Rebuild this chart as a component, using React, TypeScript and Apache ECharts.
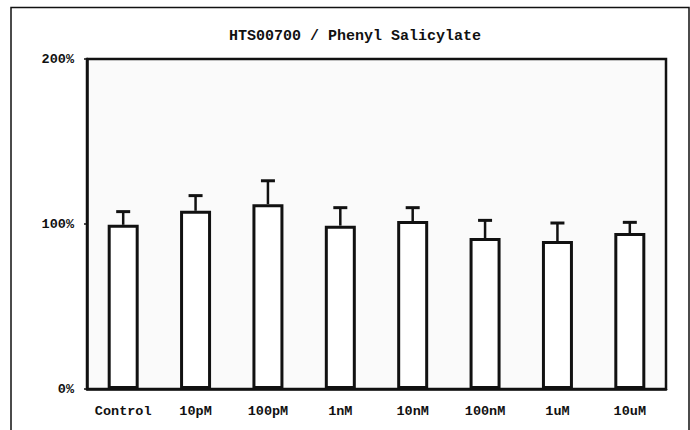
import React, { useEffect, useRef } from "react";
import * as echarts from "echarts";

const titleText = "HTS00700 / Phenyl Salicylate";
const categories = ["Control", "10pM", "100pM", "1nM", "10nM", "100nM", "1uM", "10uM"];
const means = [99.5, 108, 112, 99, 101.8, 91.5, 89.7, 94.5];
const upperErrors = [107.5, 117.2, 126.2, 109.9, 109.9, 102.2, 100.6, 101];
const yTicks = [0, 100, 200];

export default function App() {
  const ref = useRef<HTMLDivElement>(null);
  useEffect(() => {
    if (!ref.current) return;
    const chart = echarts.init(ref.current, undefined, { renderer: "svg" });
    const font = "'Liberation Mono', 'DejaVu Sans Mono', monospace";
    chart.setOption({
      animation: false,
      backgroundColor: "#ffffff",
      title: {
        text: titleText,
        left: 350,
        top: 24,
        textAlign: "center",
        textStyle: { fontFamily: font, fontSize: 15, fontWeight: "bold", color: "#111" },
      },
      graphic: [
        {
          type: "rect",
          shape: { x: 11, y: 7.5, width: 678, height: 460 },
          style: { fill: "none", stroke: "#111", lineWidth: 1.5 },
          silent: true,
        },
      ],
      grid: {
        left: 87,
        top: 59,
        width: 579,
        height: 330,
        show: true,
        backgroundColor: "#fafafa",
        borderColor: "#111",
        borderWidth: 2.5,
      },
      xAxis: {
        type: "category",
        data: categories,
        axisLine: { show: true, lineStyle: { color: "#111", width: 2.5 } },
        axisTick: { show: false },
        axisLabel: {
          interval: 0,
          margin: 15,
          fontFamily: font,
          fontSize: 13.5,
          fontWeight: "bold",
          color: "#111",
        },
      },
      yAxis: {
        type: "value",
        min: 0,
        max: 200,
        interval: 100,
        splitLine: { show: false },
        axisLine: { show: true, lineStyle: { color: "#111", width: 2.5 } },
        axisTick: { show: true, length: 3, lineStyle: { color: "#111", width: 1.5 } },
        axisLabel: {
          margin: 13,
          fontFamily: font,
          fontSize: 13.5,
          fontWeight: "bold",
          color: "#111",
          formatter: (v: number) => (yTicks.includes(v) ? v + "%" : ""),
        },
      },
      series: [
        {
          type: "bar",
          data: means,
          barWidth: 31,
          itemStyle: { color: "#ffffff", borderColor: "#111", borderWidth: 3 },
        },
        {
          type: "custom",
          data: categories.map((_, i) => [i, means[i], upperErrors[i]]),
          renderItem: (params: any, api: any) => {
            const i = api.value(0);
            const lo = api.coord([i, api.value(1)]);
            const hi = api.coord([i, api.value(2)]);
            const hw = 7;
            return {
              type: "group",
              children: [
                {
                  type: "line",
                  shape: { x1: lo[0], y1: lo[1], x2: hi[0], y2: hi[1] },
                  style: { stroke: "#111", lineWidth: 2.5 },
                },
                {
                  type: "line",
                  shape: { x1: hi[0] - hw, y1: hi[1], x2: hi[0] + hw, y2: hi[1] },
                  style: { stroke: "#111", lineWidth: 3 },
                },
              ],
            };
          },
          z: 3,
        },
      ],
    });
    return () => chart.dispose();
  }, []);
  return (
    <div
      ref={ref}
      style={{ position: "fixed", left: 0, top: 0, width: 690, height: 430 }}
    />
  );
}
